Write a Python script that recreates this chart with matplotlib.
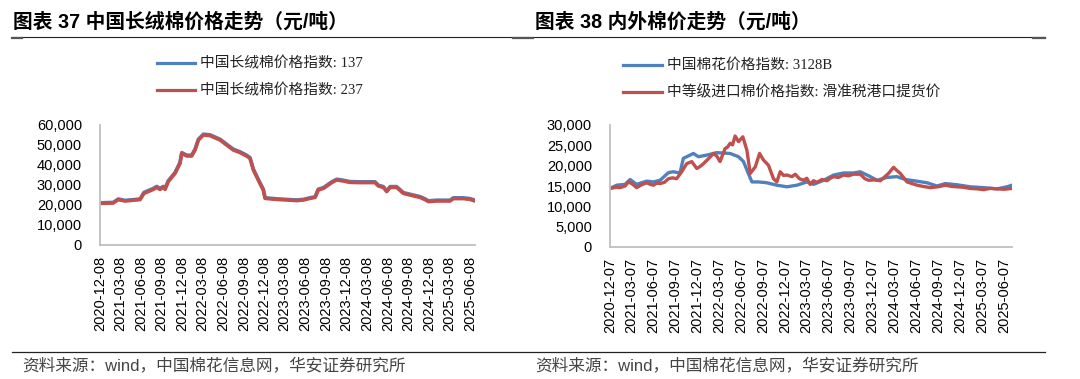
import numpy as np
import pandas as pd
import matplotlib
matplotlib.use('Agg')
import matplotlib.pyplot as plt
from matplotlib.lines import Line2D
import matplotlib.ticker as mticker

plt.rcParams['font.family'] = ['Liberation Sans', 'Noto Sans CJK SC']

W, H = 1080, 379

# ---- 图表37 中国长绒棉 ----
d137 = ['2020-12-08', '2021-02-05', '2021-02-27', '2021-03-29', '2021-06-04', '2021-06-21',
        '2021-08-02', '2021-08-17', '2021-08-31', '2021-09-15', '2021-09-23', '2021-10-07',
        '2021-11-06', '2021-11-28', '2021-12-06', '2021-12-28', '2022-01-19', '2022-02-03',
        '2022-02-18', '2022-03-12', '2022-04-10', '2022-05-25', '2022-06-23', '2022-07-23',
        '2022-08-22', '2022-09-20', '2022-10-05', '2022-10-20', '2022-11-18', '2022-12-03',
        '2022-12-11', '2023-01-31', '2023-03-17', '2023-04-30', '2023-05-30', '2023-06-28',
        '2023-07-21', '2023-08-04', '2023-08-27', '2023-10-03', '2023-10-25', '2023-11-23',
        '2023-12-23', '2024-02-05', '2024-04-12', '2024-04-27', '2024-05-19', '2024-06-03',
        '2024-06-18', '2024-07-17', '2024-08-16', '2024-09-14', '2024-10-29', '2024-11-20',
        '2024-12-05', '2025-01-11', '2025-03-11', '2025-03-26', '2025-05-09', '2025-06-08',
        '2025-06-30']
v237 = [20800, 21000, 22700, 22000, 22700, 25800, 27800, 28800, 27800, 28800, 27800, 31700,
        35800, 40800, 45800, 44500, 44500, 47500, 52500, 55000, 54700, 52500, 50000, 47500,
        46200, 44500, 43300, 37500, 30800, 27500, 23300, 22800, 22500, 22200, 22500, 23300,
        23800, 27500, 28300, 31200, 32500, 32000, 31300, 31200, 31200, 29500, 28800, 26700,
        28800, 28800, 25800, 25000, 23800, 22700, 21700, 22000, 22000, 23200, 23200, 22800,
        22000]
v137 = [21100, 21300, 23000, 22300, 23000, 26300, 28300, 29300, 28300, 29300, 28300, 32100,
        36200, 41200, 46200, 44900, 44900, 47900, 52900, 55400, 55100, 52900, 50400, 47900,
        46600, 44900, 43700, 37900, 31200, 27900, 23600, 23100, 22800, 22500, 22800, 23600,
        24100, 27900, 28700, 31600, 32900, 32400, 31700, 31600, 31600, 29900, 29200, 27100,
        29200, 29200, 26200, 25400, 24200, 23100, 22100, 22400, 22400, 23600, 23600, 23200,
        22400]
ticks37 = ['2020-12-08', '2021-03-08', '2021-06-08', '2021-09-08', '2021-12-08', '2022-03-08',
           '2022-06-08', '2022-09-08', '2022-12-08', '2023-03-08', '2023-06-08', '2023-09-08',
           '2023-12-08', '2024-03-08', '2024-06-08', '2024-09-08', '2024-12-08', '2025-03-08',
           '2025-06-08']

# ---- 图表38 内外棉价 ----
d3128 = ['2020-12-07', '2021-01-04', '2021-02-08', '2021-03-01', '2021-03-28', '2021-05-09',
         '2021-06-06', '2021-07-04', '2021-08-08', '2021-08-28', '2021-09-25', '2021-10-09',
         '2021-11-20', '2021-12-11', '2022-01-15', '2022-02-25', '2022-04-22', '2022-05-27',
         '2022-06-17', '2022-07-04', '2022-07-22', '2022-08-18', '2022-09-22', '2022-11-03',
         '2022-12-15', '2023-01-26', '2023-03-08', '2023-04-05', '2023-05-17', '2023-06-28',
         '2023-08-08', '2023-09-19', '2023-10-17', '2023-11-28', '2023-12-26', '2024-02-05',
         '2024-03-18', '2024-04-22', '2024-05-27', '2024-07-21', '2024-09-01', '2024-10-06',
         '2024-11-24', '2025-01-18', '2025-03-15', '2025-05-10', '2025-06-20', '2025-07-11']
v3128 = [14400, 15200, 15400, 16600, 15400, 16200, 16000, 16400, 18300, 18500, 18200, 21800,
         23000, 22200, 22600, 23200, 23000, 22200, 21000, 18500, 16000, 16000, 15800, 15200,
         14800, 15200, 16000, 15400, 16400, 17700, 18200, 18200, 18500, 17300, 16400, 17100,
         17300, 16600, 16300, 15800, 15000, 15600, 15300, 14800, 14600, 14300, 14800, 15200]
dimp = ['2020-12-07', '2021-01-04', '2021-01-18', '2021-02-08', '2021-02-22', '2021-03-10',
        '2021-03-28', '2021-04-18', '2021-05-09', '2021-05-24', '2021-06-06', '2021-06-20',
        '2021-07-04', '2021-07-22', '2021-08-08', '2021-08-25', '2021-09-11', '2021-10-02',
        '2021-10-23', '2021-11-13', '2021-12-04', '2021-12-18', '2022-01-01', '2022-01-20',
        '2022-02-12', '2022-02-26', '2022-03-11', '2022-04-01', '2022-04-12', '2022-04-22',
        '2022-05-02', '2022-05-13', '2022-05-27', '2022-06-14', '2022-07-01', '2022-07-15',
        '2022-08-05', '2022-08-23', '2022-09-08', '2022-09-29', '2022-10-20', '2022-11-03',
        '2022-11-17', '2022-12-01', '2022-12-15', '2023-01-05', '2023-01-19', '2023-02-05',
        '2023-02-22', '2023-03-08', '2023-03-22', '2023-04-05', '2023-04-19', '2023-05-10',
        '2023-05-31', '2023-06-14', '2023-06-28', '2023-07-18', '2023-08-08', '2023-08-28',
        '2023-09-19', '2023-10-17', '2023-11-05', '2023-11-21', '2023-12-15', '2024-01-09',
        '2024-02-12', '2024-03-04', '2024-03-18', '2024-04-01', '2024-04-29', '2024-05-20',
        '2024-06-10', '2024-07-05', '2024-08-04', '2024-09-05', '2024-10-06', '2024-11-01',
        '2024-11-24', '2024-12-20', '2025-01-18', '2025-02-15', '2025-03-15', '2025-04-10',
        '2025-05-10', '2025-06-10', '2025-07-11']
vimp = [14400, 14700, 14600, 15000, 16000, 15500, 14600, 15300, 15800, 15400, 15200, 15700,
        15600, 15900, 16800, 17000, 16800, 18500, 20500, 21000, 19300, 19800, 20500, 21600,
        23000, 22300, 21000, 24200, 24600, 25500, 25100, 27300, 25900, 27100, 23800, 18100,
        19700, 23000, 21400, 20100, 16800, 16000, 18500, 17600, 17700, 17300, 17900, 16800,
        16400, 16900, 15400, 16300, 15900, 16600, 16300, 16900, 17300, 17100, 17700, 17500,
        17900, 17900, 16800, 16400, 16500, 16300, 18100, 19600, 18800, 18100, 16000, 15600,
        15200, 14900, 14600, 14800, 15200, 14900, 14800, 14700, 14400, 14300, 14100, 14400,
        14300, 14200, 14400]
ticks38 = ['2020-12-07', '2021-03-07', '2021-06-07', '2021-09-07', '2021-12-07', '2022-03-07',
           '2022-06-07', '2022-09-07', '2022-12-07', '2023-03-07', '2023-06-07', '2023-09-07',
           '2023-12-07', '2024-03-07', '2024-06-07', '2024-09-07', '2024-12-07', '2025-03-07',
           '2025-06-07']

blue = '#4F81BD'
red = '#C0504D'
axcol = '#BFBFBF'


def px(x0, y0, x1, y1):
    return [x0 / W, 1 - y1 / H, (x1 - x0) / W, (y1 - y0) / H]


def style(ax, ticks, ymax, ystep, xlim):
    for s in ['top', 'right']:
        ax.spines[s].set_visible(False)
    for s in ['left', 'bottom']:
        ax.spines[s].set_color(axcol)
        ax.spines[s].set_linewidth(1.3)
    td = pd.to_datetime(ticks)
    ax.set_xticks(td)
    ax.set_xticklabels(ticks, rotation=90, fontsize=10.5)
    ax.set_xlim(pd.to_datetime(xlim[0]), pd.to_datetime(xlim[1]))
    ax.set_ylim(0, ymax)
    ax.set_yticks(np.arange(0, ymax + 1, ystep))
    ax.yaxis.set_major_formatter(mticker.FuncFormatter(lambda v, p: f'{int(v):,}'))
    ax.tick_params(axis='both', length=0, labelsize=10.5)
    ax.tick_params(axis='y', pad=13)
    ax.tick_params(axis='x', pad=8)


fig = plt.figure(figsize=(W / 100, H / 100), dpi=100)

ax1 = fig.add_axes(px(100, 125, 475, 245))
ax1.plot(pd.to_datetime(d137), v137, color=blue, lw=2.6)
ax1.plot(pd.to_datetime(d137), v237, color=red, lw=2.6)
style(ax1, ticks37, 60000, 10000, ('2020-12-08', '2025-06-30'))

ax2 = fig.add_axes(px(610, 125, 1012, 247))
ax2.plot(pd.to_datetime(d3128), v3128, color=blue, lw=2.4)
ax2.plot(pd.to_datetime(dimp), vimp, color=red, lw=2.4)
style(ax2, ticks38, 30000, 5000, ('2020-12-07', '2025-07-11'))

# titles
fig.text(13 / W, 1 - 22 / H, '图表 37 中国长绒棉价格走势（元/吨）', fontsize=14.2,
         fontweight='bold', va='center', ha='left')
fig.text(535 / W, 1 - 22 / H, '图表 38 内外棉价走势（元/吨）', fontsize=14.2,
         fontweight='bold', va='center', ha='left')
fig.add_artist(Line2D([12 / W, 1045 / W], [1 - 37 / H] * 2, color='#222222', lw=0.8))
for a, b in [(12, 22), (513, 533), (1033, 1045)]:
    fig.add_artist(Line2D([a / W, b / W], [1 - 38 / H] * 2, color='#555555', lw=1.6))

# legends
serif = ['Liberation Serif', 'Noto Sans CJK SC']
leg = [(157, 195, 200, 63, blue, '中国长绒棉价格指数: 137'),
       (157, 195, 200, 90, red, '中国长绒棉价格指数: 237'),
       (623, 662, 667, 65, blue, '中国棉花价格指数: 3128B'),
       (623, 662, 667, 92, red, '中等级进口棉价格指数: 滑准税港口提货价')]
for x0, x1, xt, y, c, t in leg:
    fig.add_artist(Line2D([x0 / W, x1 / W], [1 - y / H] * 2, color=c, lw=2.3))
    fig.text(xt / W, 1 - y / H, t, fontsize=10.6, family=serif, va='center', ha='left',
             color='#222222')

# footers
fig.add_artist(Line2D([12 / W, 1045 / W], [1 - 352 / H] * 2, color='#222222', lw=0.9))
src = '资料来源：wind，中国棉花信息网，华安证券研究所'
fig.text(22 / W, 1 - 365 / H, src, fontsize=12, va='center', ha='left', color='#444444')
fig.text(535 / W, 1 - 365 / H, src, fontsize=12, va='center', ha='left', color='#444444')

fig.savefig('out.png', dpi=100)
